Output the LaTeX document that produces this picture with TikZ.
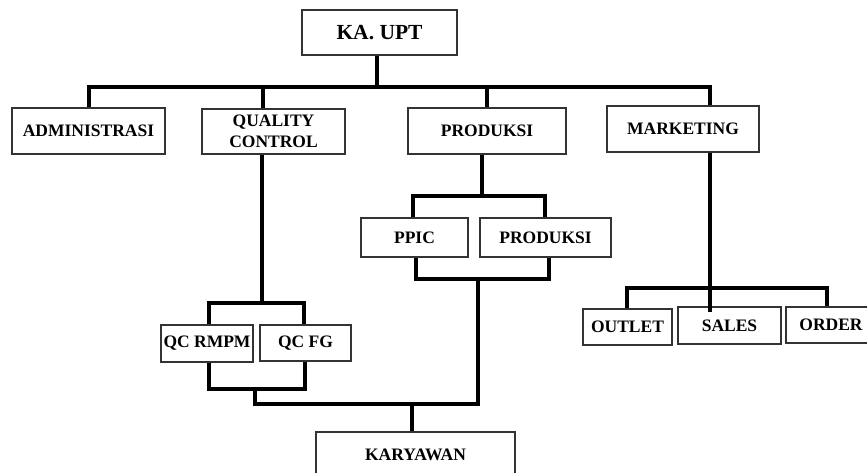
\documentclass[tikz,border=0pt]{standalone}
\usepackage{fontspec}
\setmainfont{Liberation Serif}
\begin{document}
\begin{tikzpicture}[x=1pt,y=-1pt,
  box/.style={draw=black!80, line width=1.3pt, fill=white, rectangle, inner sep=0pt,
    align=center, font=\bfseries\fontsize{17.5}{21}\selectfont, text=black},
  conn/.style={line width=3.8pt, black, line cap=butt, line join=miter}]
\useasboundingbox (0,0) rectangle (867,472);
\clip (0,0) rectangle (867,472);
% boxes
\node[box, minimum width=155, minimum height=45] (kaupt) at (379.5,32.5) {\fontsize{21.5}{24}\selectfont KA. UPT};
\node[box, minimum width=153, minimum height=46] (admin) at (88.5,131) {ADMINISTRASI};
\node[box, minimum width=143, minimum height=45] (qc) at (273.5,131.5) {QUALITY\\CONTROL};
\node[box, minimum width=158, minimum height=46] (prod) at (487,131) {PRODUKSI};
\node[box, minimum width=152, minimum height=46] (mkt) at (683,129) {MARKETING};
\node[box, minimum width=107, minimum height=39] (ppic) at (414.5,237.5) {PPIC};
\node[box, minimum width=131, minimum height=39] (prod2) at (545.5,237.5) {PRODUKSI};
\node[box, minimum width=92, minimum height=37] (qcr) at (207,343.5) {QC RMPM};
\node[box, minimum width=91, minimum height=36] (qcfg) at (305.5,343) {QC FG};
\node[box, minimum width=199, minimum height=46] (kary) at (415.5,455) {KARYAWAN};
\node[box, minimum width=89, minimum height=36] (outlet) at (627.5,327) {OUTLET};
\node[box, minimum width=103, minimum height=37] (sales) at (729.5,325.5) {SALES};
\node[box, minimum width=90, minimum height=36] (order) at (831,325) {ORDER};
% junction coordinates
\coordinate (j0) at (377,87);
\coordinate (barL) at (89,87);
\coordinate (barR) at (710,87);
\coordinate (d2) at (263,87);
\coordinate (d3) at (487,87);
\coordinate (qcj) at (262,303);
\coordinate (qcL) at (209,303);
\coordinate (qcR) at (304,303);
\coordinate (qcL2) at (209,389);
\coordinate (qcR2) at (305,389);
\coordinate (qcm) at (255,389);
\coordinate (mj) at (478,404);
\coordinate (prb) at (478,279);
\coordinate (ppb) at (416,279);
\coordinate (p2b) at (549,279);
\coordinate (kj) at (412,404);
\coordinate (pj) at (482,196);
\coordinate (pL) at (413,196);
\coordinate (pR) at (545,196);
\coordinate (mkj) at (710,288);
\coordinate (salesin) at (710,312);
\coordinate (oL) at (627,288);
\coordinate (oR) at (827,288);
% connectors
\draw[conn] (kaupt.south -| j0) -- (j0);
\draw[conn] (admin.north -| barL) |- (barR) -- (mkt.north -| barR);
\draw[conn] (d2) -- (qc.north -| d2);
\draw[conn] (d3) -- (prod.north -| d3);
\draw[conn] (qc.south -| qcj) -- (qcj);
\draw[conn] (qcr.north -| qcL) |- (qcR) -- (qcfg.north -| qcR);
\draw[conn] (qcr.south -| qcL2) |- (qcR2) -- (qcfg.south -| qcR2);
\draw[conn] (qcm) |- (mj) -- (prb);
\draw[conn] (ppic.south -| ppb) |- (p2b) -- (prod2.south -| p2b);
\draw[conn] (kj) -- (kary.north -| kj);
\draw[conn] (prod.south -| pj) -- (pj);
\draw[conn] (ppic.north -| pL) |- (pR) -- (prod2.north -| pR);
\draw[conn] (mkt.south -| mkj) -- (salesin);
\draw[conn] (outlet.north -| oL) |- (oR) -- (order.north -| oR);
\end{tikzpicture}
\end{document}
